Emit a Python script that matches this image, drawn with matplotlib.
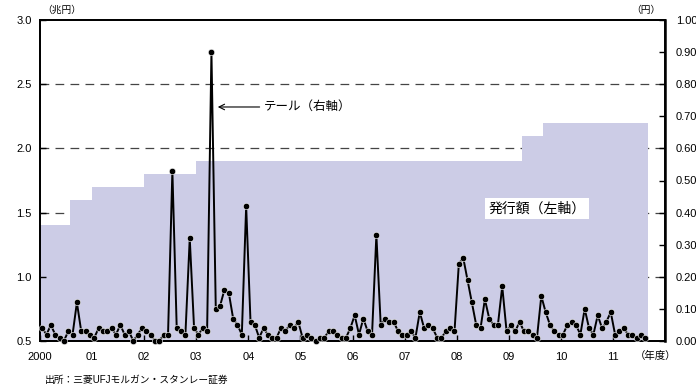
import matplotlib.pyplot as plt
import numpy as np

plt.rcParams['font.family'] = ['Liberation Sans', 'Noto Sans CJK JP', 'DejaVu Sans']

# 発行額 (兆円): step boundaries in months from April 2000
step_months = [0, 7, 12, 24, 36, 111, 116, 140]
step_values = [1.4, 1.6, 1.7, 1.8, 1.9, 2.1, 2.2]

# テール (円), monthly
tail = [
    0.04, 0.02, 0.05, 0.02, 0.01, 0.00, 0.03, 0.02, 0.12, 0.03, 0.03, 0.02,
    0.01, 0.04, 0.03, 0.03, 0.04, 0.02, 0.05, 0.02, 0.03, 0.00, 0.02, 0.04,
    0.03, 0.02, 0.00, 0.00, 0.02, 0.02, 0.53, 0.04, 0.03, 0.02, 0.32, 0.04,
    0.02, 0.04, 0.03, 0.90, 0.10, 0.11, 0.16, 0.15, 0.07, 0.05, 0.02, 0.42,
    0.06, 0.05, 0.01, 0.04, 0.02, 0.01, 0.01, 0.04, 0.03, 0.05, 0.04, 0.06,
    0.01, 0.02, 0.01, 0.00, 0.01, 0.01, 0.03, 0.03, 0.02, 0.01, 0.01, 0.04,
    0.08, 0.02, 0.07, 0.03, 0.02, 0.33, 0.05, 0.07, 0.06, 0.06, 0.03, 0.02,
    0.02, 0.03, 0.01, 0.09, 0.04, 0.05, 0.04, 0.01, 0.01, 0.03, 0.04, 0.03,
    0.24, 0.26, 0.19, 0.12, 0.05, 0.04, 0.13, 0.07, 0.05, 0.05, 0.17, 0.03,
    0.05, 0.03, 0.06, 0.03, 0.03, 0.02, 0.01, 0.14, 0.09, 0.05, 0.03, 0.02,
    0.02, 0.05, 0.06, 0.05, 0.02, 0.10, 0.04, 0.02, 0.08, 0.04, 0.06, 0.09,
    0.02, 0.03, 0.04, 0.02, 0.02, 0.01, 0.02, 0.01,
]

year_labels = ['2000', '01', '02', '03', '04', '05', '06', '07', '08', '09', '10', '11']

fig = plt.figure(figsize=(6.96, 3.89), dpi=100)
ax = fig.add_axes([40 / 696, 48 / 389, 625 / 696, 321 / 389])
ax2 = ax.twinx()

# dashed grid, behind the fill
for v in [1.0, 1.5, 2.0, 2.5]:
    ax.axhline(v, color='#444444', lw=0.9, ls=(0, (7, 5)), zorder=0)

sx = np.array(step_months) / 12
sy = step_values + [step_values[-1]]
ax.fill_between(sx, 0, sy, step='post', color='#CCCCE6', lw=0, zorder=1)

ax.set_xlim(0, 12)
ax.set_ylim(0.5, 3.0)
ax.set_yticks(np.arange(0.5, 3.01, 0.5))
ax.set_yticklabels(['%.1f' % v for v in np.arange(0.5, 3.01, 0.5)])
ax.set_xticks(range(12))
ax.set_xticklabels(year_labels)
ax.tick_params(axis='both', direction='in', length=4, width=1, labelsize=8)
ax.tick_params(axis='y', pad=6)
ax.tick_params(axis='x', pad=8)

tx = (np.arange(len(tail)) + 0.5) / 12
ax2.plot(tx, tail, '-', color='black', lw=1.4, marker='o', markersize=4.6,
         markerfacecolor='black', markeredgecolor='white', markeredgewidth=0.4,
         clip_on=False, zorder=5)
ax2.set_ylim(0, 1.0)
ax2.set_yticks(np.arange(0, 1.01, 0.1))
ax2.set_yticklabels(['%.2f' % v for v in np.arange(0, 1.01, 0.1)])
ax2.tick_params(axis='y', direction='in', length=4, width=1, labelsize=8, pad=8)

for a in (ax, ax2):
    for s in a.spines.values():
        s.set_color('black')
        s.set_linewidth(1.3)
ax2.spines['right'].set_linewidth(1.8)

ax2.annotate('', xy=(3.36, 0.729), xytext=(4.27, 0.729),
             arrowprops=dict(arrowstyle='->', color='black', lw=0.8))
ax2.text(4.29, 0.729, 'テール（右軸）', fontsize=9, va='center', ha='left')

ax.text(9.54, 1.53, '発行額（左軸）', fontsize=10, va='center', ha='center',
        bbox=dict(facecolor='white', edgecolor='none', pad=2.5), zorder=6)

fig.text(42 / 696, 1 - 10 / 389, '（兆円）', fontsize=7, va='center', ha='left')
fig.text(660 / 696, 1 - 10 / 389, '（円）', fontsize=7, va='center', ha='right')
fig.text(656 / 696, 1 - 356 / 389, '（年度）', fontsize=7.5, va='center', ha='center')
fig.text(45 / 696, 1 - 380 / 389, '出所：三菱UFJモルガン・スタンレー証券', fontsize=7,
         va='center', ha='left')

fig.savefig('out.png', dpi=100)
